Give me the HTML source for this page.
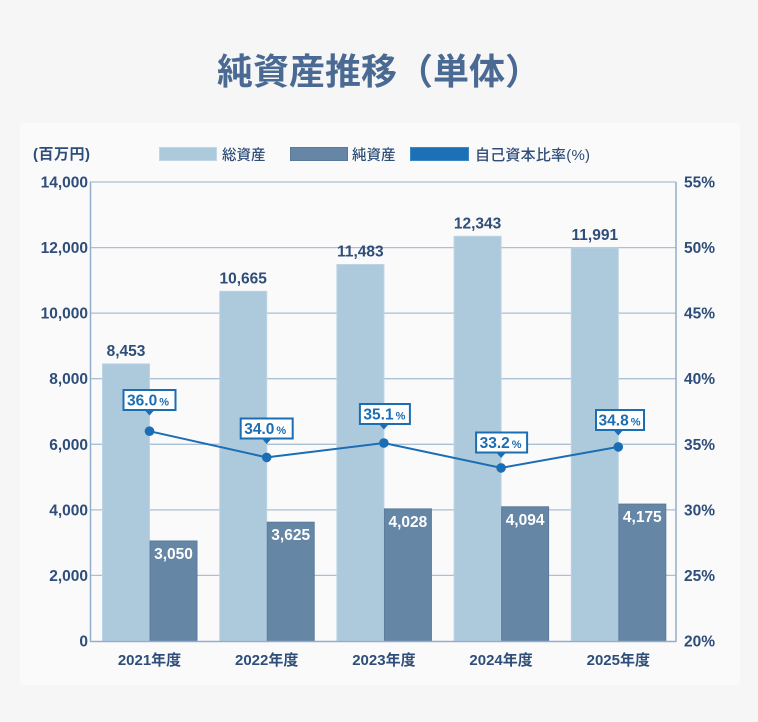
<!DOCTYPE html>
<html><head><meta charset="utf-8">
<style>
html,body{margin:0;padding:0;background:#f6f6f6;}
body{width:758px;height:722px;overflow:hidden;}
svg{display:block;}
text{font-family:"Liberation Sans","Noto Sans CJK JP",sans-serif;}
</style></head>
<body>
<svg width="758" height="722" viewBox="0 0 758 722" xmlns="http://www.w3.org/2000/svg">
<rect x="0" y="0" width="758" height="722" fill="#f6f6f6"/>
<text x="379" y="84" text-anchor="middle" font-size="36" font-weight="bold" fill="#4a6a93" style="font-family:'Noto Sans CJK JP',sans-serif">純資産推移（単体）</text>
<rect x="20" y="123" width="720" height="562" fill="#fafafa"/>

<!-- unit + legend -->
<text x="33" y="159" font-size="15" font-weight="bold" fill="#2e4d79" textLength="57" lengthAdjust="spacing">(百万円)</text>
<rect x="159.5" y="147.5" width="57" height="13" fill="#adc9dc" stroke="#c2d7e6" stroke-width="1"/>
<text x="222" y="160" font-size="14.5" font-weight="500" fill="#2e4d79">総資産</text>
<rect x="290.5" y="147.5" width="57" height="13" fill="#6686a6" stroke="#5a7a9c" stroke-width="1"/>
<text x="352" y="160" font-size="14.5" font-weight="500" fill="#2e4d79">純資産</text>
<rect x="410.5" y="147.5" width="58" height="13" fill="#1b70b6" stroke="#3b86c4" stroke-width="1"/>
<text x="475" y="160" font-size="15" font-weight="500" fill="#2e4d79" textLength="115" lengthAdjust="spacing">自己資本比率(%)</text>

<!-- gridlines -->
<g stroke="#a9c0d5" stroke-width="1.3">
<line x1="90" y1="182" x2="676" y2="182"/>
<line x1="90" y1="247.6" x2="676" y2="247.6"/>
<line x1="90" y1="313.1" x2="676" y2="313.1"/>
<line x1="90" y1="378.7" x2="676" y2="378.7"/>
<line x1="90" y1="444.3" x2="676" y2="444.3"/>
<line x1="90" y1="509.9" x2="676" y2="509.9"/>
<line x1="90" y1="575.4" x2="676" y2="575.4"/>
</g>

<!-- light bars -->
<g fill="#adc9dc" stroke="#bcd4e5" stroke-width="1">
<rect x="102.5" y="363.9" width="47" height="277.1"/>
<rect x="219.7" y="291.3" width="47" height="349.7"/>
<rect x="336.9" y="264.5" width="47" height="376.5"/>
<rect x="454.1" y="236.3" width="47" height="404.7"/>
<rect x="571.3" y="247.9" width="47" height="393.1"/>
</g>
<!-- dark bars -->
<g fill="#6686a6" stroke="#5b7b9d" stroke-width="1">
<rect x="150" y="541.0" width="47" height="100"/>
<rect x="267.2" y="522.2" width="47" height="118.8"/>
<rect x="384.4" y="508.9" width="47" height="132.1"/>
<rect x="501.6" y="506.8" width="47" height="134.2"/>
<rect x="618.8" y="504.1" width="47" height="136.9"/>
</g>

<!-- axes -->
<g stroke="#93aec8" stroke-width="1.5" fill="none">
<line x1="90.5" y1="182" x2="90.5" y2="641.5"/>
<line x1="676" y1="182" x2="676" y2="641.5"/>
<line x1="90" y1="641.5" x2="676.5" y2="641.5"/>
</g>

<!-- left ticks -->
<g font-size="15.5" font-weight="bold" fill="#2e4d79" text-anchor="end">
<text x="88" y="187.5">14,000</text>
<text x="88" y="253">12,000</text>
<text x="88" y="318.6">10,000</text>
<text x="88" y="384.2">8,000</text>
<text x="88" y="449.8">6,000</text>
<text x="88" y="515.4">4,000</text>
<text x="88" y="580.9">2,000</text>
<text x="88" y="646.5">0</text>
</g>
<!-- right ticks -->
<g font-size="15.5" font-weight="bold" fill="#2e4d79">
<text x="684" y="187.5">55%</text>
<text x="684" y="253">50%</text>
<text x="684" y="318.6">45%</text>
<text x="684" y="384.2">40%</text>
<text x="684" y="449.8">35%</text>
<text x="684" y="515.4">30%</text>
<text x="684" y="580.9">25%</text>
<text x="684" y="646.5">20%</text>
</g>

<!-- x labels -->
<g font-size="15" font-weight="bold" fill="#2e4d79" text-anchor="middle">
<text x="149.5" y="665">2021年度</text>
<text x="266.7" y="665">2022年度</text>
<text x="383.9" y="665">2023年度</text>
<text x="501.1" y="665">2024年度</text>
<text x="618.3" y="665">2025年度</text>
</g>

<!-- total asset labels -->
<g font-size="15.5" font-weight="bold" fill="#2e4d79" text-anchor="middle">
<text x="126" y="356">8,453</text>
<text x="243.2" y="283.5">10,665</text>
<text x="360.4" y="256.5">11,483</text>
<text x="477.6" y="228.3">12,343</text>
<text x="594.8" y="240">11,991</text>
</g>
<!-- net asset labels -->
<g font-size="15.5" font-weight="bold" fill="#ffffff" text-anchor="middle">
<text x="173.5" y="559">3,050</text>
<text x="290.7" y="540.2">3,625</text>
<text x="407.9" y="527">4,028</text>
<text x="525.1" y="524.8">4,094</text>
<text x="642.3" y="522.1">4,175</text>
</g>

<!-- ratio line -->
<polyline points="149.5,431.2 266.7,457.4 383.9,443 501.1,467.9 618.3,446.9" fill="none" stroke="#1b6db4" stroke-width="2"/>
<g fill="#1b6db4">
<circle cx="149.5" cy="431.2" r="4.8"/>
<circle cx="266.7" cy="457.4" r="4.8"/>
<circle cx="383.9" cy="443" r="4.8"/>
<circle cx="501.1" cy="467.9" r="4.8"/>
<circle cx="618.3" cy="446.9" r="4.8"/>
</g>

<!-- callouts -->
<g>
<rect x="123.5" y="390" width="52" height="20" fill="#ffffff" stroke="#1b6db4" stroke-width="2"/>
<polygon points="145.5,411 153.5,411 149.5,415.5" fill="#1b6db4"/>
<text x="148" y="405.5" text-anchor="middle" font-weight="bold" fill="#1b6db4"><tspan font-size="15.5">36.0</tspan><tspan font-size="11" dx="2">%</tspan></text>

<rect x="240.7" y="418.5" width="52" height="20" fill="#ffffff" stroke="#1b6db4" stroke-width="2"/>
<polygon points="262.7,439.5 270.7,439.5 266.7,444" fill="#1b6db4"/>
<text x="265.2" y="434" text-anchor="middle" font-weight="bold" fill="#1b6db4"><tspan font-size="15.5">34.0</tspan><tspan font-size="11" dx="2">%</tspan></text>

<rect x="359.9" y="404" width="50" height="20" fill="#ffffff" stroke="#1b6db4" stroke-width="2"/>
<polygon points="379.9,425 387.9,425 383.9,429.5" fill="#1b6db4"/>
<text x="384.4" y="419.5" text-anchor="middle" font-weight="bold" fill="#1b6db4"><tspan font-size="15.5">35.1</tspan><tspan font-size="11" dx="2">%</tspan></text>

<rect x="476.1" y="432.5" width="51" height="20" fill="#ffffff" stroke="#1b6db4" stroke-width="2"/>
<polygon points="497.1,453.5 505.1,453.5 501.1,458" fill="#1b6db4"/>
<text x="500.6" y="448" text-anchor="middle" font-weight="bold" fill="#1b6db4"><tspan font-size="15.5">33.2</tspan><tspan font-size="11" dx="2">%</tspan></text>

<rect x="596" y="410" width="48" height="20" fill="#ffffff" stroke="#1b6db4" stroke-width="2"/>
<polygon points="614.3,431 622.3,431 618.3,435.5" fill="#1b6db4"/>
<text x="619.5" y="425.5" text-anchor="middle" font-weight="bold" fill="#1b6db4"><tspan font-size="15.5">34.8</tspan><tspan font-size="11" dx="2">%</tspan></text>
</g>
</svg>
</body></html>
